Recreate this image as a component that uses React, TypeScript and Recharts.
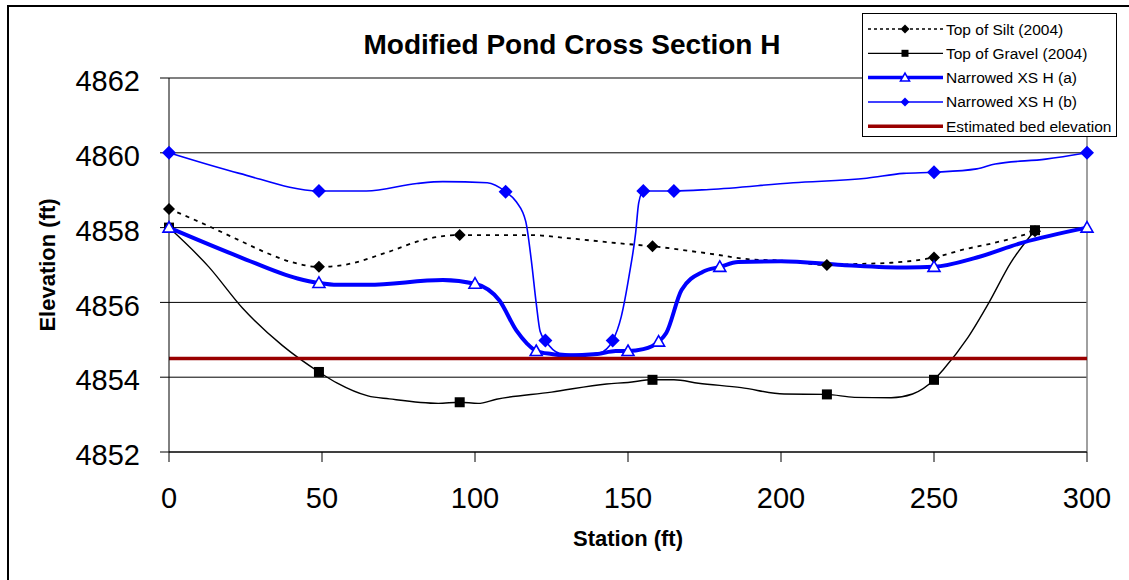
import React from "react";
import {
  LineChart,
  Line,
  XAxis,
  YAxis,
  CartesianGrid,
  ReferenceLine,
  Legend,
  Label,
} from "recharts";

const FONT = '"Liberation Sans", Arial, sans-serif';

// Top of Silt (2004)
const siltStation = [0, 10, 24, 32, 40, 49, 57, 72, 83, 95, 118, 130, 147, 158, 177, 190, 200, 215, 226, 236, 250, 260, 268, 275, 283];
const siltElev = [4858.5, 4858.15, 4857.62, 4857.32, 4857.08, 4856.95, 4857.0, 4857.36, 4857.67, 4857.8, 4857.8, 4857.72, 4857.58, 4857.5, 4857.3, 4857.15, 4857.12, 4857.0, 4857.03, 4857.06, 4857.2, 4857.42, 4857.56, 4857.7, 4857.9];
const siltMarked = [0, 49, 95, 158, 215, 250, 283];

// Top of Gravel (2004)
const gravelStation = [0, 13, 24, 37, 49, 55, 65, 72, 88, 95, 101, 107, 125, 143, 150, 158, 165, 173, 187, 201, 215, 224, 236, 243, 250, 253, 261, 268, 275, 283];
const gravelElev = [4858.0, 4856.95, 4855.85, 4854.85, 4854.14, 4853.84, 4853.5, 4853.42, 4853.3, 4853.33, 4853.3, 4853.41, 4853.6, 4853.82, 4853.86, 4853.93, 4853.93, 4853.84, 4853.72, 4853.55, 4853.54, 4853.46, 4853.45, 4853.55, 4853.93, 4854.2, 4855.05, 4856.0, 4857.05, 4857.93];
const gravelMarked = [0, 49, 95, 158, 215, 250, 283];

// Narrowed XS H (a)
const xsaStation = [0, 23, 42, 49, 55, 65, 89.5, 100, 108, 113.5, 117, 120, 125, 130, 140, 146, 150, 155, 160, 162.5, 167.5, 174.5, 180, 186, 200, 220, 241, 250, 264, 279, 300];
const xsaElev = [4858.0, 4857.22, 4856.64, 4856.52, 4856.47, 4856.47, 4856.6, 4856.5, 4856.05, 4855.25, 4854.9, 4854.7, 4854.62, 4854.58, 4854.62, 4854.7, 4854.7, 4854.75, 4854.95, 4855.18, 4856.33, 4856.82, 4856.95, 4857.08, 4857.1, 4857.0, 4856.93, 4856.95, 4857.2, 4857.6, 4858.0];
const xsaMarked = [0, 49, 100, 120, 150, 160, 180, 250, 300];

// Narrowed XS H (b)
const xsbStation = [0, 23, 49, 64.5, 81, 89.5, 104, 110, 113.5, 116.6, 118.4, 120, 121.3, 123, 127.6, 135, 140.7, 145, 147.8, 150.5, 152.5, 153.5, 155, 165, 176.6, 204, 228, 240, 250, 264, 270, 286.5, 300];
const xsbElev = [4860.0, 4859.45, 4858.98, 4858.98, 4859.18, 4859.23, 4859.2, 4858.96, 4858.69, 4858.16, 4857.13, 4855.98, 4855.22, 4854.98, 4854.64, 4854.6, 4854.65, 4854.98, 4855.62, 4856.78, 4857.86, 4858.66, 4858.98, 4858.98, 4859.02, 4859.2, 4859.32, 4859.45, 4859.48, 4859.57, 4859.7, 4859.83, 4860.0];
const xsbMarked = [0, 49, 110, 123, 145, 155, 165, 250, 300];

// Estimated bed elevation
const bedStation = [0, 300];
const bedElev = [4854.5, 4854.5];

const xTicks = [0, 50, 100, 150, 200, 250, 300];
const yTicks = [4852, 4854, 4856, 4858, 4860, 4862];

const legendLabels = [
  "Top of Silt (2004)",
  "Top of Gravel (2004)",
  "Narrowed XS H (a)",
  "Narrowed XS H (b)",
  "Estimated bed elevation",
];

const BLUE = "#0000FF";
const BED = "#990000";

function toRows(stations: number[], elevs: number[], marked: number[]) {
  return stations.map((x, i) => ({ x, y: elevs[i], mark: marked.includes(x) }));
}

const siltData = toRows(siltStation, siltElev, siltMarked);
const gravelData = toRows(gravelStation, gravelElev, gravelMarked);
const xsaData = toRows(xsaStation, xsaElev, xsaMarked);
const xsbData = toRows(xsbStation, xsbElev, xsbMarked);
const bedData = toRows(bedStation, bedElev, []);

function Marker({ shape, cx, cy, size, color }: { shape: string; cx: number; cy: number; size: number; color: string }) {
  if (shape === "diamond") {
    return <polygon points={`${cx},${cy - size} ${cx + size},${cy} ${cx},${cy + size} ${cx - size},${cy}`} fill={color} />;
  }
  if (shape === "square") {
    return <rect x={cx - size} y={cy - size} width={size * 2} height={size * 2} fill={color} />;
  }
  return (
    <polygon
      points={`${cx},${cy - size} ${cx + size},${cy + size * 0.75} ${cx - size},${cy + size * 0.75}`}
      fill="#fff"
      stroke={color}
      strokeWidth={1.6}
    />
  );
}

const makeDot = (shape: string, size: number, color: string) => (p: any) => {
  const { cx, cy, index, payload } = p;
  if (!payload || !payload.mark || cx == null || cy == null) return <g key={`n-${index}`} />;
  return (
    <g key={`d-${index}`}>
      <Marker shape={shape} cx={cx} cy={cy} size={size} color={color} />
    </g>
  );
};

function LegendBox() {
  const rows = [
    { dash: "3 3", w: 1.5, color: "#000", shape: "diamond", size: 4.5 },
    { dash: undefined, w: 1.3, color: "#000", shape: "square", size: 3.5 },
    { dash: undefined, w: 3.5, color: BLUE, shape: "triangle", size: 4.5 },
    { dash: undefined, w: 1.5, color: BLUE, shape: "diamond", size: 4.5 },
    { dash: undefined, w: 3.5, color: BED, shape: "", size: 0 },
  ];
  return (
    <div style={{ width: 253, height: 122, border: "1px solid #000", background: "#fff" }}>
      <svg width={253} height={122} style={{ display: "block" }}>
        {legendLabels.map((label, i) => {
          const cy = 15 + i * 24.3;
          const r = rows[i];
          return (
            <g key={label}>
              <line x1={5} x2={80} y1={cy} y2={cy} stroke={r.color} strokeWidth={r.w} strokeDasharray={r.dash} />
              {r.shape && <Marker shape={r.shape} cx={42} cy={cy} size={r.size} color={r.color} />}
              <text x={83} y={cy + 5.5} fontSize={15.5} fontFamily={FONT} fill="#000">
                {label}
              </text>
            </g>
          );
        })}
      </svg>
    </div>
  );
}

export default function App() {
  return (
    <div
      style={{
        position: "absolute",
        left: 0,
        top: 0,
        width: 1129,
        height: 580,
        overflow: "hidden",
        background: "#fff",
        fontFamily: FONT,
      }}
    >
      <div
        style={{
          position: "absolute",
          left: 7,
          top: 5,
          width: 1300,
          height: 800,
          borderTop: "2px solid #000",
          borderLeft: "2px solid #000",
        }}
      />
      <LineChart width={1129} height={580} margin={{ top: 78, right: 42, bottom: 48, left: 0 }}>
        <CartesianGrid vertical={false} stroke="#000" strokeWidth={1} />
        <XAxis
          dataKey="x"
          type="number"
          domain={[0, 300]}
          ticks={xTicks}
          height={80}
          tickSize={10}
          tickMargin={25}
          stroke="#000"
          tick={{ fill: "#000", fontSize: 29, fontFamily: FONT }}
          allowDuplicatedCategory={false}
        >
          <Label
            content={(props: any) => {
              const vb = props.viewBox || {};
              return (
                <text
                  x={vb.x + vb.width / 2}
                  y={546}
                  textAnchor="middle"
                  fontSize={22}
                  fontWeight="bold"
                  fontFamily={FONT}
                  fill="#000"
                >
                  Station (ft)
                </text>
              );
            }}
          />
        </XAxis>
        <YAxis
          type="number"
          domain={[4852, 4862]}
          ticks={yTicks}
          width={169}
          tickSize={9}
          tickMargin={20}
          stroke="#000"
          tick={{ fill: "#000", fontSize: 29, fontFamily: FONT, dy: 3 }}
        >
          <Label
            content={(props: any) => {
              const vb = props.viewBox || {};
              const cy = vb.y + vb.height / 2;
              return (
                <text
                  x={55}
                  y={cy}
                  transform={`rotate(-90, 55, ${cy})`}
                  textAnchor="middle"
                  fontSize={22}
                  fontWeight="bold"
                  fontFamily={FONT}
                  fill="#000"
                >
                  Elevation (ft)
                </text>
              );
            }}
          />
        </YAxis>
        <ReferenceLine y={4862} stroke="#808080" strokeWidth={1.5} />
        <ReferenceLine x={300} stroke="#808080" strokeWidth={1.5} />
        <Line
          data={siltData}
          dataKey="y"
          type="monotone"
          stroke="#000"
          strokeWidth={1.8}
          strokeDasharray="4 5"
          dot={makeDot("diamond", 6, "#000")}
          activeDot={false}
          isAnimationActive={false}
        />
        <Line
          data={gravelData}
          dataKey="y"
          type="monotone"
          stroke="#000"
          strokeWidth={1.4}
          dot={makeDot("square", 5, "#000")}
          activeDot={false}
          isAnimationActive={false}
        />
        <Line
          data={xsaData}
          dataKey="y"
          type="monotone"
          stroke={BLUE}
          strokeWidth={4}
          dot={makeDot("triangle", 6, BLUE)}
          activeDot={false}
          isAnimationActive={false}
        />
        <Line
          data={xsbData}
          dataKey="y"
          type="monotone"
          stroke={BLUE}
          strokeWidth={1.6}
          dot={makeDot("diamond", 7, BLUE)}
          activeDot={false}
          isAnimationActive={false}
        />
        <Line
          data={bedData}
          dataKey="y"
          type="linear"
          stroke={BED}
          strokeWidth={3.5}
          dot={false}
          activeDot={false}
          isAnimationActive={false}
        />
        <Legend
          layout="vertical"
          align="center"
          verticalAlign="middle"
          content={() => <LegendBox />}
          wrapperStyle={{ position: "absolute", top: 13, left: 862, width: 255, height: 124, lineHeight: 0 }}
        />
      </LineChart>
      <div
        style={{
          position: "absolute",
          left: 272,
          top: 31,
          width: 600,
          textAlign: "center",
          fontSize: 28,
          lineHeight: "28px",
          fontWeight: "bold",
          color: "#000",
          fontFamily: FONT,
        }}
      >
        Modified Pond Cross Section H
      </div>
    </div>
  );
}
